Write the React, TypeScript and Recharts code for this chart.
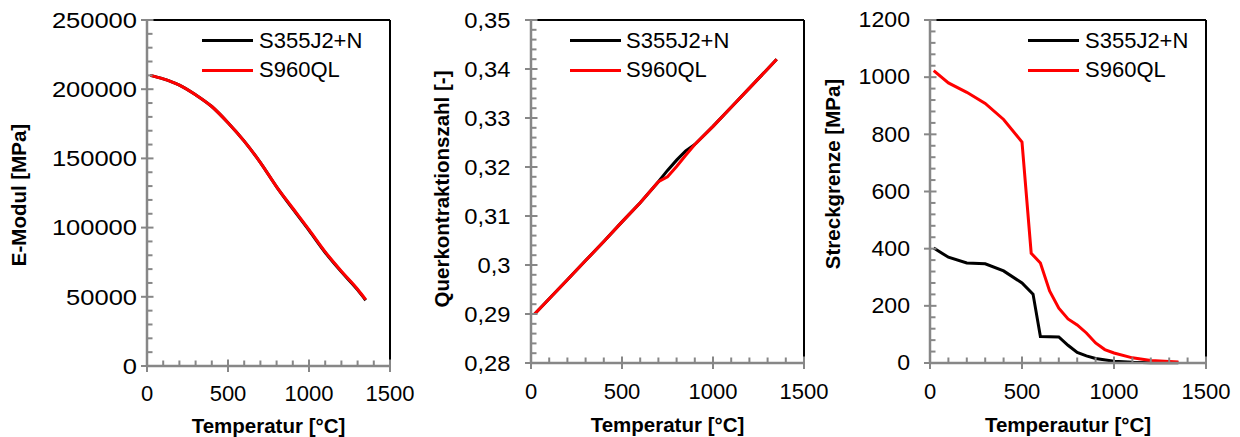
import React from 'react';
import { LineChart, Line, XAxis, YAxis, Legend, ReferenceLine } from 'recharts';

const FONT = '"Liberation Sans", Arial, sans-serif';
const AXIS_GREY = '#878787';
const S355_COLOR = '#000000';
const S960_COLOR = '#ff0000';
const S355_NAME = 'S355J2+N';
const S960_NAME = 'S960QL';

// axis labels (major ticks)
const TEMP_TICKS = [0, 500, 1000, 1500];
const E_TICKS = [0, 50000, 100000, 150000, 200000, 250000];
const NU_TICKS = [0.28, 0.29, 0.3, 0.31, 0.32, 0.33, 0.34, 0.35];
const FY_TICKS = [0, 200, 400, 600, 800, 1000, 1200];

// E-Modul [MPa]
const E_TEMPS = [20, 100, 200, 300, 400, 500, 600, 700, 800, 900, 1000, 1100, 1200, 1300, 1350];
const E_S355 = [210000, 207500, 203000, 196000, 187500, 175800, 162500, 147000, 129500, 113500, 98000, 82000, 68000, 55000, 47500];
const E_S960 = [210000, 207500, 203000, 196000, 187500, 175800, 162500, 147000, 129500, 114000, 98500, 82500, 68500, 55500, 48000];

// Querkontraktionszahl [-]
const NU_TEMPS = [20, 100, 200, 300, 400, 500, 600, 700, 750, 800, 850, 900, 1000, 1100, 1200, 1300, 1350];
const NU_S355 = [0.29, 0.2931, 0.297, 0.3009, 0.3048, 0.3088, 0.3127, 0.317, 0.3193, 0.3214, 0.3233, 0.3246, 0.3283, 0.3322, 0.3361, 0.34, 0.342];
const NU_S960 = [0.29, 0.2931, 0.297, 0.3009, 0.3048, 0.3088, 0.3127, 0.317, 0.318, 0.3201, 0.3224, 0.3246, 0.3283, 0.3322, 0.3361, 0.34, 0.342];

// Streckgrenze [MPa]
const FY_S355_TEMPS = [20, 100, 200, 300, 400, 500, 560, 600, 700, 750, 800, 850, 900, 1000, 1100, 1200, 1350];
const FY_S355 = [402, 370, 350, 347, 322, 280, 241, 93, 91, 62, 37, 25, 16, 6, 2.5, 1, 0.5];
const FY_S960_TEMPS = [20, 100, 200, 300, 400, 500, 550, 600, 650, 700, 750, 800, 850, 900, 950, 1000, 1100, 1200, 1350];
const FY_S960 = [1023, 980, 947, 908, 852, 773, 384, 350, 252, 192, 154, 133, 105, 70, 47, 35, 18, 9, 3.5];

const toPoints = (temps: number[], values: number[]) => temps.map((t, i) => ({ t, v: values[i] }));

// major ticks plus four minor ticks in between
const withMinors = (majors: number[], parts = 5) => {
  const out: number[] = [];
  for (let i = 0; i < majors.length - 1; i++) {
    for (let k = 0; k < parts; k++) {
      out.push(Number((majors[i] + ((majors[i + 1] - majors[i]) * k) / parts).toFixed(6)));
    }
  }
  out.push(majors[majors.length - 1]);
  return out;
};

const isMajor = (v: number, majors: number[]) => majors.some((m) => Math.abs(m - v) < 1e-9);

const textStyle = { fontFamily: FONT, fontSize: 22, fill: '#000' };
const titleStyle = { fontFamily: FONT, fontSize: 20.5, fontWeight: 700, fill: '#000' };

// tick mark lengths in px: major ticks cross the axis, minor ticks point inward
const MAJOR_OUT = 6;
const MAJOR_IN = 6.5;
const MINOR_IN = 5.5;

const makeXTick = (majors: number[], labelDy: number) => (props: any) => {
  const { x, y, payload } = props;
  const v = payload.value;
  if (!isMajor(v, majors)) {
    return <line x1={x} x2={x} y1={y} y2={y - MINOR_IN} stroke={AXIS_GREY} strokeWidth={2} />;
  }
  return (
    <g>
      <line x1={x} x2={x} y1={y - MAJOR_IN} y2={y + MAJOR_OUT} stroke={AXIS_GREY} strokeWidth={2} />
      <text x={x} y={y + labelDy} textAnchor="middle" dominantBaseline="central" style={textStyle}>
        {v}
      </text>
    </g>
  );
};

const makeYTick = (majors: number[], gap: number, stretch: number, fmt: (v: number) => string) => (props: any) => {
  const { x, y, payload } = props;
  const v = payload.value;
  if (!isMajor(v, majors)) {
    return <line x1={x} x2={x + MINOR_IN} y1={y} y2={y} stroke={AXIS_GREY} strokeWidth={2} />;
  }
  return (
    <g>
      <line x1={x - MAJOR_OUT} x2={x + MAJOR_IN} y1={y} y2={y} stroke={AXIS_GREY} strokeWidth={2} />
      <text
        transform={`translate(${x - gap},${y}) scale(${stretch},1)`}
        textAnchor="end"
        dominantBaseline="central"
        style={textStyle}
      >
        {fmt(v)}
      </text>
    </g>
  );
};

const LegendBox = ({ payload, gap }: any) => (
  <div style={{ fontFamily: FONT, fontSize: 22, color: '#000' }}>
    {(payload || []).map((p: any) => (
      <div key={p.value} style={{ display: 'flex', alignItems: 'center', height: 29.5, whiteSpace: 'nowrap' }}>
        <span style={{ display: 'inline-block', width: 51, height: 3, background: p.color }} />
        <span style={{ marginLeft: gap }}>{p.value}</span>
      </div>
    ))}
  </div>
);

interface PanelProps {
  left: number;
  width: number;
  yAxisWidth: number;
  rightMargin: number;
  xAxisHeight: number;
  yTicks: number[];
  yLabelGap: number;
  yLabelStretch?: number;
  yFormat?: (v: number) => string;
  xLabelDy: number;
  xTitle: string;
  xTitleDy: number;
  yTitle: string;
  yTitleX: number;
  yTitleDy: number;
  legendLeft: number;
  legendGap: number;
  curve: 'linear' | 'monotone';
  s355: { t: number; v: number }[];
  s960: { t: number; v: number }[];
}

const Panel = (p: PanelProps) => {
  const yMin = p.yTicks[0];
  const yMax = p.yTicks[p.yTicks.length - 1];
  const fmt = p.yFormat || ((v: number) => String(v));
  return (
    <div style={{ position: 'absolute', left: p.left, top: 0 }}>
      <LineChart width={p.width} height={437} margin={{ top: 20, right: p.rightMargin, bottom: 0, left: 0 }}>
        <XAxis
          dataKey="t"
          type="number"
          domain={[0, 1500]}
          ticks={withMinors(TEMP_TICKS)}
          interval={0}
          height={p.xAxisHeight}
          tickSize={0}
          tickMargin={0}
          tickLine={false}
          axisLine={{ stroke: AXIS_GREY, strokeWidth: 2.5 }}
          tick={makeXTick(TEMP_TICKS, p.xLabelDy)}
          label={{
            content: ({ viewBox }: any) => (
              <text
                x={viewBox.x + viewBox.width / 2}
                y={viewBox.y + p.xTitleDy}
                textAnchor="middle"
                dominantBaseline="central"
                style={titleStyle}
              >
                {p.xTitle}
              </text>
            ),
          }}
        />
        <YAxis
          type="number"
          domain={[yMin, yMax]}
          ticks={withMinors(p.yTicks)}
          interval={0}
          width={p.yAxisWidth}
          tickSize={0}
          tickMargin={0}
          tickLine={false}
          axisLine={{ stroke: AXIS_GREY, strokeWidth: 2.5 }}
          tick={makeYTick(p.yTicks, p.yLabelGap, p.yLabelStretch || 1, fmt)}
          label={{
            content: ({ viewBox }: any) => {
              const cy = viewBox.y + viewBox.height / 2 + p.yTitleDy;
              return (
                <text
                  transform={`translate(${p.yTitleX},${cy}) rotate(-90)`}
                  textAnchor="middle"
                  dominantBaseline="central"
                  style={titleStyle}
                >
                  {p.yTitle}
                </text>
              );
            },
          }}
        />
        {/* black frame on top and right */}
        <ReferenceLine y={yMax} stroke="#000" strokeWidth={2} />
        <ReferenceLine x={1500} stroke="#000" strokeWidth={2} />
        <Legend
          layout="vertical"
          align="center"
          verticalAlign="middle"
          wrapperStyle={{ left: p.legendLeft, top: 26, width: 'auto' }}
          content={(props: any) => <LegendBox payload={props.payload} gap={p.legendGap} />}
        />
        <Line
          data={p.s355}
          dataKey="v"
          name={S355_NAME}
          type={p.curve}
          stroke={S355_COLOR}
          strokeWidth={3}
          dot={false}
          isAnimationActive={false}
        />
        <Line
          data={p.s960}
          dataKey="v"
          name={S960_NAME}
          type={p.curve}
          stroke={S960_COLOR}
          strokeWidth={3}
          dot={false}
          isAnimationActive={false}
        />
      </LineChart>
    </div>
  );
};

export default function App() {
  return (
    <div style={{ position: 'absolute', left: 0, top: 0, width: 1240, height: 437, background: '#fff', fontFamily: FONT }}>
      <style>{'.recharts-surface { overflow: visible; }'}</style>
      <Panel
        left={0}
        width={410}
        yAxisWidth={147}
        rightMargin={20}
        xAxisHeight={71}
        yTicks={E_TICKS}
        yLabelGap={10}
        yLabelStretch={1.16}
        xLabelDy={27.5}
        xTitle="Temperatur [°C]"
        xTitleDy={59.5}
        yTitle="E-Modul [MPa]"
        yTitleX={18}
        yTitleDy={2}
        legendLeft={201.5}
        legendGap={6.5}
        curve="monotone"
        s355={toPoints(E_TEMPS, E_S355)}
        s960={toPoints(E_TEMPS, E_S960)}
      />
      <Panel
        left={410}
        width={415}
        yAxisWidth={121}
        rightMargin={21}
        xAxisHeight={74}
        yTicks={NU_TICKS}
        yLabelGap={20.5}
        yLabelStretch={1.08}
        yFormat={(v) => String(v).replace('.', ',')}
        xLabelDy={28.5}
        xTitle="Temperatur [°C]"
        xTitleDy={61}
        yTitle="Querkontraktionszahl [-]"
        yTitleX={31}
        yTitleDy={-2.5}
        legendLeft={160}
        legendGap={5}
        curve="linear"
        s355={toPoints(NU_TEMPS, NU_S355)}
        s960={toPoints(NU_TEMPS, NU_S960)}
      />
      <Panel
        left={825}
        width={415}
        yAxisWidth={105}
        rightMargin={34}
        xAxisHeight={74}
        yTicks={FY_TICKS}
        yLabelGap={20}
        yLabelStretch={1.05}
        xLabelDy={28}
        xTitle="Temperautur [°C]"
        xTitleDy={61}
        yTitle="Streckgrenze [MPa]"
        yTitleX={7}
        yTitleDy={-17.5}
        legendLeft={203}
        legendGap={6}
        curve="linear"
        s355={toPoints(FY_S355_TEMPS, FY_S355)}
        s960={toPoints(FY_S960_TEMPS, FY_S960)}
      />
    </div>
  );
}
